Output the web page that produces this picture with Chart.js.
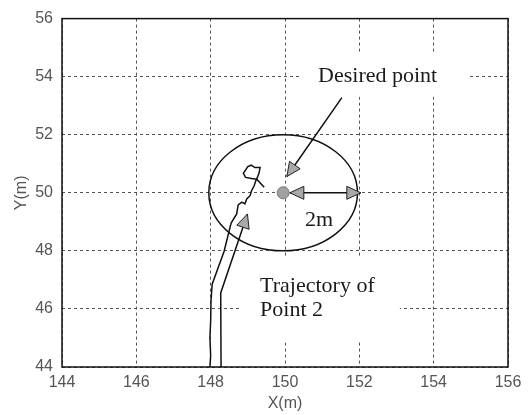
<!DOCTYPE html>
<html>
<head>
<meta charset="utf-8">
<script src="https://cdn.jsdelivr.net/npm/chart.js@4.4.0/dist/chart.umd.min.js"></script>
<style>
  html, body { margin: 0; padding: 0; background: #fff; }
  #wrap { width: 528px; height: 415px; }
</style>
</head>
<body>
<div id="wrap"><canvas id="c" width="528" height="415"></canvas></div>
<script>
// Axis ticks (metres)
const xTicks = [144, 146, 148, 150, 152, 154, 156];
const yTicks = [44, 46, 48, 50, 52, 54, 56];

// Path followed by Point 2
const trajX = [147.98, 148.00, 147.98, 148.00, 148.01, 148.04, 148.36, 148.55, 148.70, 148.74, 148.84, 148.92, 148.97, 149.06, 149.10, 149.17, 149.22, 149.24, 149.30, 149.33, 149.19, 149.09, 149.00, 148.88, 148.94, 149.10, 149.24, 149.44];
const trajY = [44.00, 44.40, 45.00, 45.60, 46.30, 46.85, 47.98, 48.96, 49.27, 49.58, 49.68, 49.62, 49.79, 49.90, 50.07, 50.24, 50.44, 50.48, 50.67, 50.87, 50.87, 50.95, 50.90, 50.67, 50.53, 50.49, 50.47, 50.19];

// Arrow labelling the path
const pathArrowX = [148.28, 148.27, 148.99];
const pathArrowY = [44.00, 46.55, 49.27];

// Desired point and its tolerance radius
const targetX = [149.95];
const targetY = [50.0];
const tolRadius = 2;

// Arrow from the "Desired point" label
const pointerX = [151.53, 150.05];
const pointerY = [53.28, 50.56];

// Double arrow showing the 2 m radius
const spanX = [150.13, 152.04];
const spanY = [50.0, 50.0];

const toXY = (xs, ys) => xs.map((v, i) => ({ x: v, y: ys[i] }));

const serif = '"Liberation Serif", "DejaVu Serif", serif';
const sans = '"Liberation Sans", Arial, sans-serif';

function arrowHead(ctx, tx, ty, fx, fy, len, half) {
  const ang = Math.atan2(ty - fy, tx - fx);
  const bx = tx - len * Math.cos(ang), by = ty - len * Math.sin(ang);
  const nx = -Math.sin(ang) * half, ny = Math.cos(ang) * half;
  ctx.beginPath();
  ctx.moveTo(tx, ty);
  ctx.lineTo(bx + nx, by + ny);
  ctx.lineTo(bx - nx, by - ny);
  ctx.closePath();
  ctx.fillStyle = '#a8a8a8';
  ctx.fill();
  ctx.lineWidth = 1;
  ctx.strokeStyle = '#222';
  ctx.stroke();
}

const overlay = {
  id: 'overlay',
  beforeDatasetsDraw(chart) {
    const { ctx, scales: { x, y } } = chart;
    ctx.save();
    // white backing under the text labels
    ctx.fillStyle = '#fff';
    const box = (x0, y0, x1, y1) => {
      const px0 = x.getPixelForValue(x0), px1 = x.getPixelForValue(x1);
      const py0 = y.getPixelForValue(y0), py1 = y.getPixelForValue(y1);
      ctx.fillRect(px0, py0, px1 - px0, py1 - py0);
    };
    box(150.40, 54.84, 154.92, 53.31);
    box(148.79, 47.77, 153.09, 44.92);
    // tolerance circle around the desired point
    const cx = x.getPixelForValue(targetX[0]), cy = y.getPixelForValue(targetY[0]);
    const rx = x.getPixelForValue(targetX[0] + tolRadius) - cx;
    const ry = cy - y.getPixelForValue(targetY[0] + tolRadius);
    ctx.beginPath();
    ctx.ellipse(cx, cy, rx, ry, 0, 0, Math.PI * 2);
    ctx.lineWidth = 1.5;
    ctx.strokeStyle = '#111';
    ctx.stroke();
    ctx.restore();
  },
  afterDatasetsDraw(chart) {
    const { ctx, chartArea: a, scales: { x, y } } = chart;
    ctx.save();
    const pts = i => chart.getDatasetMeta(i).data;
    // arrow heads
    let p = pts(1);
    arrowHead(ctx, p[1].x, p[1].y, p[0].x, p[0].y, 14, 6.5);
    p = pts(2);
    arrowHead(ctx, p[2].x, p[2].y, p[1].x, p[1].y, 14, 6.5);
    p = pts(3);
    arrowHead(ctx, p[0].x, p[0].y, p[1].x, p[1].y, 14, 6.5);
    arrowHead(ctx, p[1].x, p[1].y, p[0].x, p[0].y, 14, 6.5);

    // annotation text
    ctx.fillStyle = '#1a1a1a';
    ctx.font = '22px ' + serif;
    ctx.textAlign = 'left';
    ctx.textBaseline = 'middle';
    ctx.fillText('Desired point', x.getPixelForValue(150.89), y.getPixelForValue(54.0));
    ctx.fillText('2m', x.getPixelForValue(150.54), y.getPixelForValue(49.07));
    ctx.fillText('Trajectory of', x.getPixelForValue(149.33), y.getPixelForValue(46.79));
    ctx.fillText('Point 2', x.getPixelForValue(149.33), y.getPixelForValue(45.94));

    // axes box
    ctx.lineWidth = 1.5;
    ctx.strokeStyle = '#111';
    ctx.strokeRect(a.left, a.top, a.right - a.left, a.bottom - a.top);
    ctx.restore();
  }
};

const lineStyle = { showLine: true, borderColor: '#111', borderWidth: 1.5, pointRadius: 0, tension: 0, fill: false };

new Chart(document.getElementById('c'), {
  type: 'scatter',
  data: {
    datasets: [
      Object.assign({ label: 'Trajectory', data: toXY(trajX, trajY) }, lineStyle),
      Object.assign({ label: 'Pointer', data: toXY(pointerX, pointerY) }, lineStyle),
      Object.assign({ label: 'Path arrow', data: toXY(pathArrowX, pathArrowY) }, lineStyle),
      Object.assign({ label: 'Radius', data: toXY(spanX, spanY) }, lineStyle),
      { label: 'Desired point', data: toXY(targetX, targetY), pointRadius: 6, pointBackgroundColor: '#a0a0a0', pointBorderColor: '#777', pointBorderWidth: 1 }
    ]
  },
  options: {
    responsive: false,
    devicePixelRatio: 1,
    animation: false,
    layout: { padding: { top: 14, right: 20, left: 0, bottom: 0 } },
    plugins: { legend: { display: false }, tooltip: { enabled: false } },
    scales: {
      x: {
        type: 'linear',
        min: xTicks[0],
        max: xTicks[xTicks.length - 1],
        afterBuildTicks: s => { s.ticks = xTicks.map(v => ({ value: v })); },
        afterFit: s => { s.height = 48; },
        grid: { color: '#555', lineWidth: 1, drawTicks: false },
        border: { display: false, dash: [3, 3] },
        ticks: { color: '#555', font: { family: sans, size: 16 }, padding: 6, maxRotation: 0 },
        title: { display: true, text: 'X(m)', color: '#555', font: { family: sans, size: 16 }, padding: { top: 2, bottom: 2 } }
      },
      y: {
        type: 'linear',
        min: yTicks[0],
        max: yTicks[yTicks.length - 1],
        afterBuildTicks: s => { s.ticks = yTicks.map(v => ({ value: v })); },
        afterFit: s => { s.width = 62; },
        grid: { color: '#555', lineWidth: 1, drawTicks: false },
        border: { display: false, dash: [3, 3] },
        ticks: { color: '#555', font: { family: sans, size: 16 }, padding: 9 },
        title: { display: true, text: 'Y(m)', color: '#555', font: { family: sans, size: 16 }, padding: { top: 12, bottom: 12 } }
      }
    }
  },
  plugins: [overlay]
});
</script>
</body>
</html>
